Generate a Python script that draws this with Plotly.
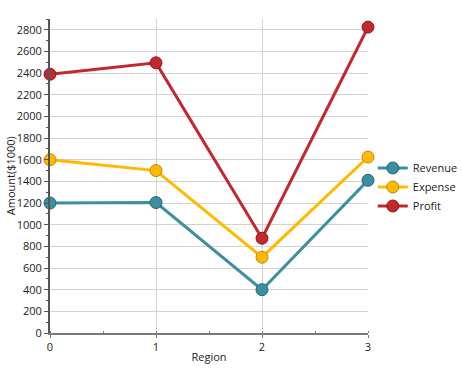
import plotly.graph_objects as go

regions = [0, 1, 2, 3]
revenue = [1200, 1205, 400, 1410]
expense = [1600, 1500, 700, 1625]
profit = [2390, 2495, 875, 2825]
y_title = "Amount($1000)"
x_title = "Region"

series = [
    ("Revenue", revenue, "#3A8FA0", "#246774"),
    ("Expense", expense, "#FFB900", "#B98A06"),
    ("Profit", profit, "#C2282E", "#861A1E"),
]

fig = go.Figure()
for name, vals, col, edge in series:
    fig.add_trace(go.Scatter(
        x=regions, y=vals, name=name, mode="lines+markers",
        line=dict(color=col, width=3),
        marker=dict(size=12, color=col, line=dict(color=edge, width=1)),
        cliponaxis=False,
    ))

font = "Open Sans, Noto Sans, sans-serif"
fig.update_layout(
    width=462, height=374,
    margin=dict(l=50, r=94, t=19, b=41, autoexpand=False),
    paper_bgcolor="white", plot_bgcolor="white",
    font=dict(family=font, size=11, color="#222"),
    showlegend=True,
    legend=dict(x=1.015, y=0.465, xanchor="left", yanchor="middle",
                font=dict(size=11, color="#222"), itemwidth=30,
                tracegroupgap=4, bgcolor="rgba(0,0,0,0)"),
    xaxis=dict(
        range=[0, 3], tickvals=regions, ticktext=[str(r) for r in regions],
        automargin=False,
        showgrid=True, gridcolor="#D3D3D3", gridwidth=1,
        showline=True, linecolor="#7A7A7A", linewidth=2,
        ticks="outside", ticklen=3, tickcolor="#7A7A7A",
        minor=dict(dtick=0.5, ticks="inside", ticklen=2, tickcolor="#7A7A7A", showgrid=False),
        zeroline=False,
        title=dict(text=x_title, font=dict(size=11), standoff=0),
        tickfont=dict(size=11),
    ),
    yaxis=dict(
        range=[0, 2900], dtick=200, tick0=0,
        automargin=False,
        showgrid=True, gridcolor="#D3D3D3", gridwidth=1,
        showline=True, linecolor="#555555", linewidth=2,
        ticks="outside", ticklen=4, tickcolor="#555555",
        minor=dict(dtick=100, ticks="outside", ticklen=2, tickcolor="#555555", showgrid=False),
        zeroline=False,
        tickfont=dict(size=11),
    ),
    annotations=[dict(
        text=y_title, textangle=-90, xref="paper", yref="paper",
        x=-0.125, y=0.5, xanchor="center", yanchor="middle",
        showarrow=False, font=dict(size=11, color="#222"),
    )],
)

fig.write_html("out.html", config={"displayModeBar": False},
               post_script="document.body.style.margin='0';document.body.style.overflow='hidden';")
